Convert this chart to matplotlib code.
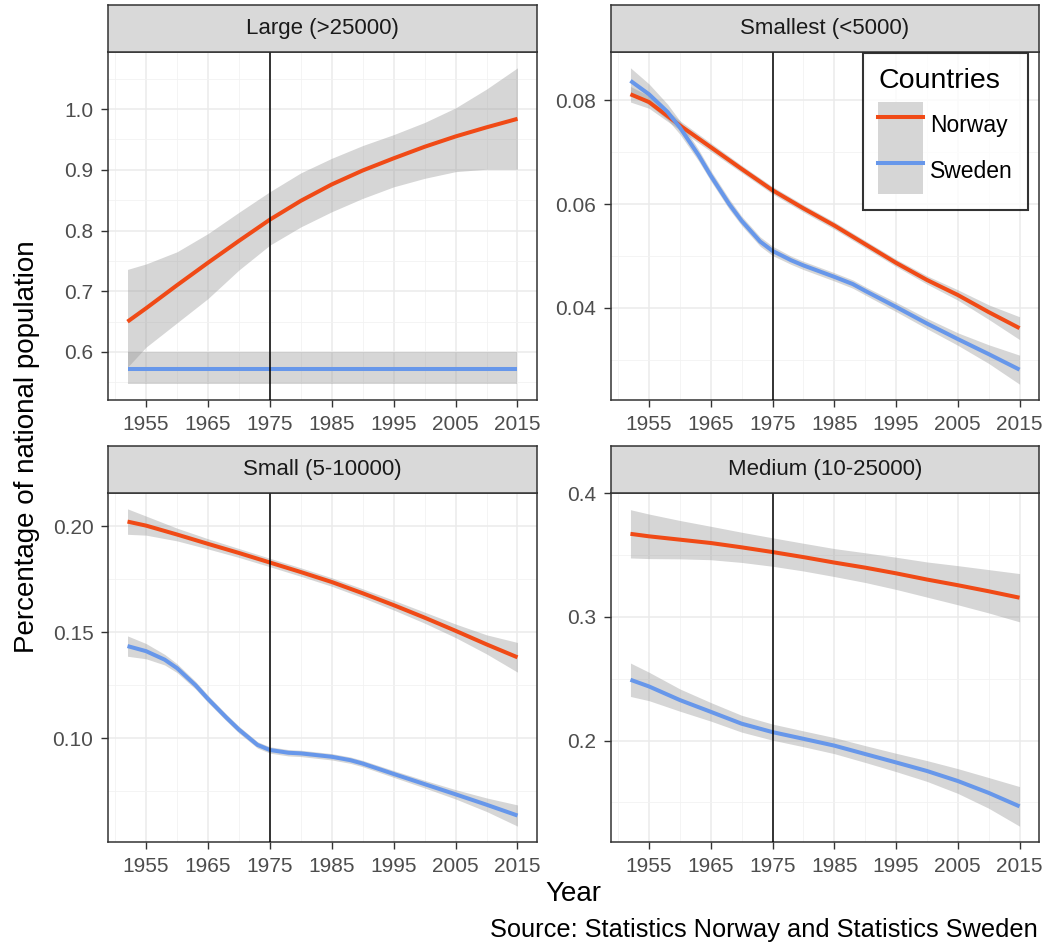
import matplotlib
matplotlib.use("Agg")
import matplotlib.pyplot as plt
from matplotlib.lines import Line2D
from matplotlib.patches import Patch
from matplotlib.legend_handler import HandlerTuple

plt.rcParams['font.family'] = ['Liberation Sans', 'DejaVu Sans']

# --- data --------------------------------------------------------------
years = [1952, 1955, 1960, 1965, 1970, 1975, 1980, 1985, 1990, 1995, 2000, 2005, 2010, 2015]
years_fine = [1952, 1955, 1958, 1960, 1963, 1965, 1968, 1970, 1973, 1975, 1978, 1980,
              1985, 1988, 1990, 1995, 2000, 2005, 2010, 2015]

# Large (>25000)
large_no = [0.650, 0.672, 0.710, 0.747, 0.783, 0.818, 0.849, 0.876, 0.899, 0.919, 0.938, 0.955, 0.970, 0.984]
large_no_lo = [0.575, 0.608, 0.648, 0.688, 0.735, 0.776, 0.806, 0.831, 0.853, 0.872, 0.886, 0.897, 0.901, 0.901]
large_no_hi = [0.736, 0.745, 0.765, 0.795, 0.830, 0.864, 0.895, 0.919, 0.940, 0.958, 0.978, 1.002, 1.033, 1.068]
large_se = [0.572] * len(years)
large_se_lo = [0.547] * len(years)
large_se_hi = [0.600] * len(years)

# Smallest (<5000)
smallest_no = [0.0812, 0.0797, 0.0752, 0.0710, 0.0668, 0.0627, 0.0592, 0.0559, 0.0523, 0.0487,
               0.0454, 0.0425, 0.0392, 0.0361]
smallest_no_se = [0.0015, 0.0012, 0.0009, 0.0008, 0.0007, 0.0007, 0.0007, 0.0007, 0.0007, 0.0007,
                  0.0008, 0.0010, 0.0014, 0.0022]
smallest_se = [0.0838, 0.0812, 0.0778, 0.0748, 0.0695, 0.0655, 0.0600, 0.0568, 0.0528, 0.0510,
               0.0492, 0.0482, 0.0460, 0.0446, 0.0433, 0.0402, 0.0370, 0.0340, 0.0311, 0.0281]
smallest_se_se = [0.0025, 0.0020, 0.0015, 0.0013, 0.0011, 0.0010, 0.0010, 0.0009, 0.0009, 0.0009,
                  0.0008, 0.0008, 0.0008, 0.0008, 0.0008, 0.0009, 0.0010, 0.0012, 0.0018, 0.0028]

# Small (5-10000)
small_no = [0.2021, 0.2002, 0.1960, 0.1916, 0.1873, 0.1828, 0.1783, 0.1736, 0.1683, 0.1627,
            0.1568, 0.1506, 0.1442, 0.1381]
small_no_se = [0.0060, 0.0045, 0.0030, 0.0024, 0.0021, 0.0020, 0.0020, 0.0020, 0.0021, 0.0023,
               0.0026, 0.0032, 0.0045, 0.0070]
small_se = [0.1434, 0.1410, 0.1370, 0.1330, 0.1249, 0.1185, 0.1096, 0.1040, 0.0968, 0.0944,
            0.0931, 0.0928, 0.0912, 0.0896, 0.0880, 0.0831, 0.0783, 0.0735, 0.0686, 0.0635]
small_se_se = [0.0048, 0.0036, 0.0025, 0.0021, 0.0018, 0.0017, 0.0016, 0.0016, 0.0015, 0.0015,
               0.0015, 0.0015, 0.0015, 0.0015, 0.0015, 0.0016, 0.0018, 0.0022, 0.0032, 0.0050]

# Medium (10-25000)
medium_no = [0.3670, 0.3650, 0.3623, 0.3596, 0.3561, 0.3523, 0.3482, 0.3438, 0.3397, 0.3351,
             0.3301, 0.3255, 0.3206, 0.3154]
medium_no_se = [0.0195, 0.0180, 0.0155, 0.0135, 0.0122, 0.0115, 0.0112, 0.0113, 0.0120, 0.0130,
                0.0142, 0.0158, 0.0175, 0.0195]
medium_se = [0.2491, 0.2437, 0.2327, 0.2232, 0.2136, 0.2068, 0.2014, 0.1959, 0.1891, 0.1823,
             0.1754, 0.1673, 0.1577, 0.1468]
medium_se_se = [0.0135, 0.0115, 0.0090, 0.0075, 0.0068, 0.0065, 0.0064, 0.0065, 0.0068, 0.0074,
                0.0084, 0.0100, 0.0124, 0.0160]

x_ticks = [1955, 1965, 1975, 1985, 1995, 2005, 2015]
x_minor = [1950, 1960, 1970, 1980, 1990, 2000, 2010]

NORWAY = '#F04A16'
SWEDEN = '#6797EA'
W, H = 1048, 947


def rect(x0, y0, x1, y1):
    return [x0 / W, 1 - y1 / H, (x1 - x0) / W, (y1 - y0) / H]


def band(mid, se):
    return [m - s for m, s in zip(mid, se)], [m + s for m, s in zip(mid, se)]


def panel(fig, box, strip, title, series, yticks, ylabels, yminor):
    ax = fig.add_axes(rect(*box))
    ymin = min(min(s[2]) for s in series)
    ymax = max(max(s[3]) for s in series)
    pad = (ymax - ymin) * 0.05
    ax.set_ylim(ymin - pad, ymax + pad)
    ax.set_xlim(1952 - 63 * 0.05, 2015 + 63 * 0.05)

    for yrs, mid, lo, hi, col in series:
        ax.fill_between(yrs, lo, hi, color='#999999', alpha=0.4, lw=0, zorder=2)
    for yrs, mid, lo, hi, col in series:
        ax.plot(yrs, mid, color=col, lw=2.9, solid_capstyle='butt', zorder=3)
    ax.axvline(1975, color='black', lw=1.1, zorder=4)

    ax.set_xticks(x_ticks)
    ax.set_xticks(x_minor, minor=True)
    ax.set_yticks(yticks)
    ax.set_yticklabels(ylabels)
    ax.set_yticks(yminor, minor=True)
    ax.grid(True, which='major', color='#EBEBEB', lw=1.1, zorder=0)
    ax.grid(True, which='minor', color='#F2F2F2', lw=0.6, zorder=0)
    ax.set_axisbelow(True)
    ax.tick_params(which='major', length=5, width=1, color='#333333',
                   labelsize=15, labelcolor='#4D4D4D', pad=5.5)
    ax.tick_params(which='minor', length=0)
    for s in ax.spines.values():
        s.set_color('#333333')
        s.set_linewidth(1.1)

    sax = fig.add_axes(rect(*strip))
    sax.set_facecolor('#D9D9D9')
    sax.set_xticks([]); sax.set_yticks([])
    for s in sax.spines.values():
        s.set_color('#333333')
        s.set_linewidth(1.1)
    sax.text(0.5, 0.5, title, ha='center', va='center', fontsize=16, color='#1A1A1A',
             transform=sax.transAxes)
    return ax


fig = plt.figure(figsize=(W / 100, H / 100), dpi=100)

panel(fig, (108, 52, 537, 400), (108, 5, 537, 52), 'Large (>25000)',
      [(years, large_no, large_no_lo, large_no_hi, NORWAY),
       (years, large_se, large_se_lo, large_se_hi, SWEDEN)],
      [0.6, 0.7, 0.8, 0.9, 1.0], ['0.6', '0.7', '0.8', '0.9', '1.0'],
      [0.55, 0.65, 0.75, 0.85, 0.95, 1.05])

ax2 = panel(fig, (611, 52, 1039, 400), (611, 5, 1039, 52), 'Smallest (<5000)',
            [(years, smallest_no, *band(smallest_no, smallest_no_se), NORWAY),
             (years_fine, smallest_se, *band(smallest_se, smallest_se_se), SWEDEN)],
            [0.04, 0.06, 0.08], ['0.04', '0.06', '0.08'], [0.03, 0.05, 0.07])

panel(fig, (108, 493, 537, 842), (108, 446, 537, 493), 'Small (5-10000)',
      [(years, small_no, *band(small_no, small_no_se), NORWAY),
       (years_fine, small_se, *band(small_se, small_se_se), SWEDEN)],
      [0.10, 0.15, 0.20], ['0.10', '0.15', '0.20'], [0.075, 0.125, 0.175])

panel(fig, (611, 493, 1039, 842), (611, 446, 1039, 493), 'Medium (10-25000)',
      [(years, medium_no, *band(medium_no, medium_no_se), NORWAY),
       (years, medium_se, *band(medium_se, medium_se_se), SWEDEN)],
      [0.2, 0.3, 0.4], ['0.2', '0.3', '0.4'], [0.15, 0.25, 0.35])

# legend with grey key background like ggplot
key_bg = Patch(facecolor='#D6D6D6', edgecolor='none')
handles = [(key_bg, Line2D([], [], color=NORWAY, lw=2.9)),
           (key_bg, Line2D([], [], color=SWEDEN, lw=2.9))]
leg = ax2.legend(handles, ['Norway', 'Sweden'], title='Countries',
                 handler_map={tuple: HandlerTuple(ndivide=1)},
                 loc='upper left', bbox_to_anchor=(863 / W, 1 - 53 / H),
                 bbox_transform=fig.transFigure, borderaxespad=0,
                 fontsize=16.5, title_fontsize=20.5, frameon=True, fancybox=False,
                 handlelength=1.97, handleheight=2.71, labelspacing=0.0,
                 handletextpad=0.3, borderpad=0.66, alignment='left')
leg._legend_box.sep = 6
leg.get_frame().set_edgecolor('black')
leg.get_frame().set_linewidth(1.5)

fig.text(27 / W, 1 - 447 / H, 'Percentage of national population', rotation=90,
         ha='center', va='center', fontsize=20)
fig.text(573 / W, 1 - 894 / H, 'Year', ha='center', va='center', fontsize=20)
fig.text(1038 / W, 1 - 930 / H, 'Source: Statistics Norway and Statistics Sweden',
         ha='right', va='center', fontsize=18.3)

fig.savefig('out.png', dpi=100)
